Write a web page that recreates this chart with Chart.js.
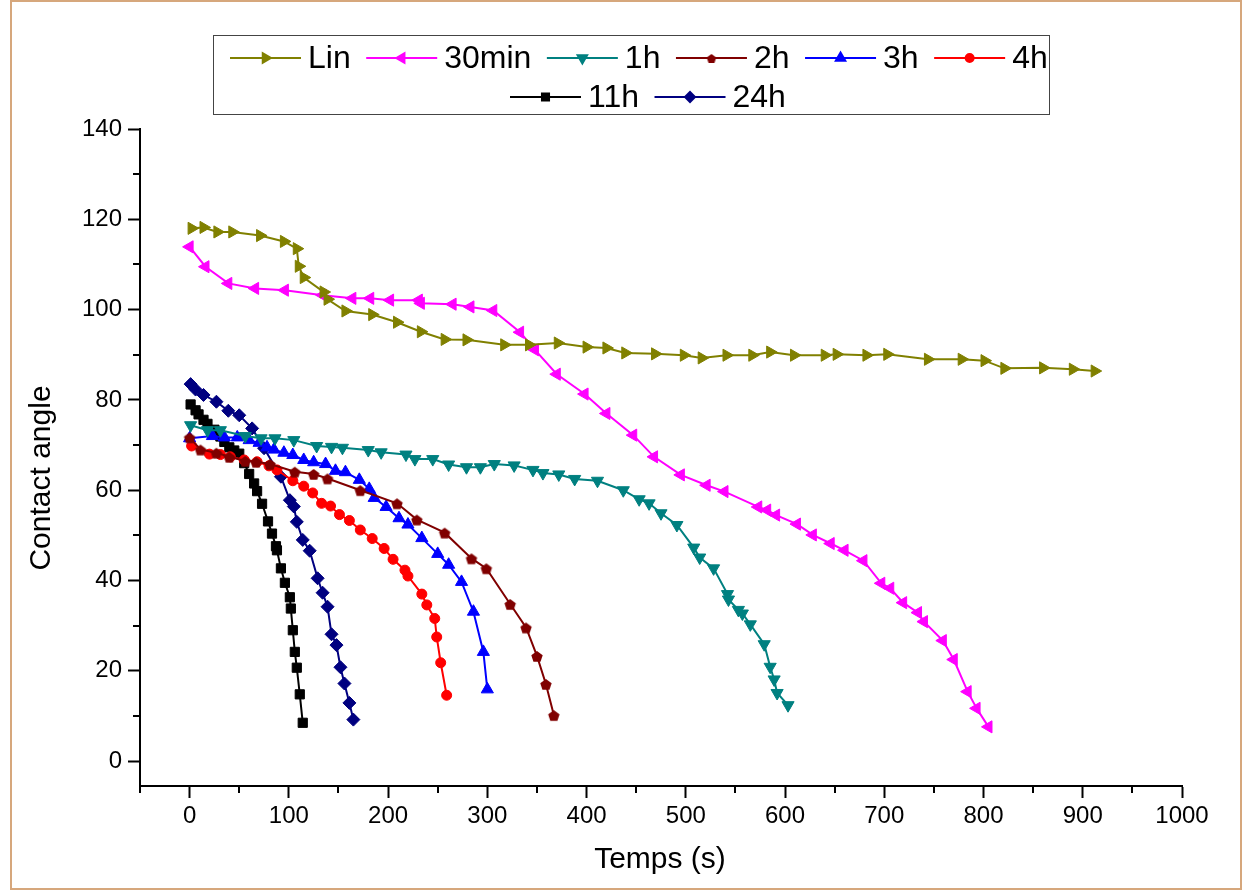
<!DOCTYPE html>
<html>
<head>
<meta charset="utf-8">
<title>Contact angle vs temps</title>
<script src="https://cdn.jsdelivr.net/npm/chart.js@4.4.0/dist/chart.umd.min.js"></script>
<style>
  html, body { margin: 0; padding: 0; background: #fff; }
  #wrap { width: 1243px; height: 891px; }
</style>
</head>
<body>
<div id="wrap"><canvas id="chart" width="1243" height="891"></canvas></div>
<script>
// --- data (time in s, contact angle in degrees) ---
const linX = [2, 14, 28, 43, 71, 95, 108, 110, 115, 135, 139, 157, 184, 209, 233, 257, 279, 317, 342, 371, 400, 420, 439, 469, 498, 516, 541, 567, 585, 609, 640, 652, 682, 703, 744, 778, 801, 821, 860, 890, 912];
const linY = [118.0, 118.2, 117.2, 117.2, 116.4, 115.1, 113.5, 109.6, 107.1, 103.9, 102.3, 99.7, 98.9, 97.2, 95.1, 93.4, 93.3, 92.2, 92.2, 92.6, 91.7, 91.5, 90.4, 90.2, 89.9, 89.3, 89.9, 89.9, 90.6, 89.9, 89.9, 90.1, 89.9, 90.1, 89.0, 89.0, 88.7, 87.0, 87.1, 86.8, 86.4];

const min30X = [0, 16, 39, 66, 96, 134, 164, 182, 202, 231, 233, 265, 283, 306, 333, 348, 370, 398, 420, 447, 468, 495, 521, 539, 573, 582, 591, 612, 628, 646, 660, 679, 697, 706, 719, 734, 740, 759, 770, 784, 793, 805];
const min30Y = [113.9, 109.5, 105.8, 104.7, 104.3, 103.2, 102.5, 102.5, 102.1, 102.1, 101.4, 101.2, 100.6, 99.8, 95.0, 91.1, 85.7, 81.3, 77.0, 72.2, 67.4, 63.4, 61.1, 59.7, 56.3, 55.6, 54.5, 52.5, 50.1, 48.2, 46.7, 44.4, 39.4, 38.3, 35.1, 32.9, 30.9, 26.7, 22.5, 15.4, 11.7, 7.6];

const h1X = [1, 18, 31, 56, 72, 86, 105, 128, 143, 154, 180, 193, 218, 227, 245, 261, 279, 293, 307, 327, 346, 356, 372, 388, 411, 437, 453, 463, 475, 491, 508, 514, 528, 542, 543, 553, 557, 565, 579, 585, 589, 592, 603];
const h1Y = [74.4, 73.3, 73.3, 72.0, 71.5, 71.5, 71.1, 69.8, 69.6, 69.4, 68.9, 68.4, 67.9, 66.9, 66.9, 65.7, 65.1, 65.1, 65.8, 65.5, 64.5, 63.8, 63.5, 62.5, 62.1, 60.0, 58.0, 57.1, 54.9, 52.3, 47.3, 45.1, 42.7, 37.0, 35.8, 33.5, 32.7, 30.3, 25.9, 20.9, 18.1, 15.1, 12.4];

const h2X = [0, 11, 27, 40, 56, 67, 81, 106, 125, 139, 172, 209, 229, 257, 284, 299, 323, 339, 350, 359, 367];
const h2Y = [71.7, 69.0, 68.3, 67.4, 66.5, 66.3, 65.8, 64.1, 63.6, 62.6, 60.0, 57.1, 53.5, 50.6, 44.9, 42.7, 34.8, 29.6, 23.3, 17.1, 10.2];

const h3X = [0, 23, 35, 48, 60, 70, 78, 85, 95, 104, 115, 125, 137, 147, 157, 171, 181, 186, 198, 211, 220, 234, 250, 261, 274, 286, 296, 300];
const h3Y = [71.5, 72.0, 71.7, 71.7, 71.1, 70.5, 69.5, 69.0, 68.3, 67.8, 66.7, 66.2, 65.8, 64.3, 64.0, 62.3, 60.3, 58.3, 56.3, 53.8, 52.4, 49.4, 45.9, 43.5, 39.7, 33.1, 24.2, 15.9];

const h4X = [2, 20, 31, 41, 55, 68, 80, 88, 104, 115, 124, 133, 142, 151, 161, 172, 184, 196, 205, 217, 220, 234, 239, 247, 249, 253, 259];
const h4Y = [69.8, 68.0, 67.9, 67.4, 66.7, 66.3, 65.4, 64.5, 62.1, 60.9, 59.4, 57.1, 56.5, 54.6, 53.3, 51.2, 49.3, 47.1, 44.7, 42.3, 41.0, 37.0, 34.6, 31.6, 27.5, 21.8, 14.6];

const h11X = [1, 6, 9, 14, 18, 25, 31, 35, 40, 45, 50, 55, 60, 65, 68, 73, 79, 83, 87, 88, 92, 96, 101, 102, 104, 106, 108, 111, 114];
const h11Y = [79.0, 77.7, 76.8, 75.6, 74.7, 73.4, 71.9, 70.7, 69.5, 68.8, 68.1, 66.0, 63.6, 61.5, 59.8, 57.0, 53.1, 50.4, 47.6, 46.7, 42.7, 39.5, 36.3, 33.8, 29.0, 24.2, 20.7, 14.8, 8.5];

const h24X = [1, 6, 14, 27, 39, 50, 63, 75, 92, 101, 105, 108, 114, 121, 129, 134, 139, 143, 148, 152, 156, 161, 165];
const h24Y = [83.5, 82.3, 81.1, 79.6, 77.6, 76.6, 73.7, 69.3, 63.0, 57.8, 56.4, 53.0, 49.0, 46.6, 40.5, 37.3, 34.2, 28.1, 25.7, 20.8, 17.2, 12.9, 9.2];

const SERIES_NAMES = ['Lin', '30min', '1h', '2h', '3h', '4h', '11h', '24h'];
const X_TICKS = [0, 100, 200, 300, 400, 500, 600, 700, 800, 900, 1000];
const X_MINOR = [-50, 50, 150, 250, 350, 450, 550, 650, 750, 850, 950];
const Y_TICKS = [0, 20, 40, 60, 80, 100, 120, 140];
const Y_MINOR = [10, 30, 50, 70, 90, 110, 130];

const FONT = '"Liberation Sans", Arial, sans-serif';

function pentagon(color, r) {
  const c = document.createElement('canvas');
  const s = Math.ceil(r * 2 + 2);
  c.width = c.height = s;
  const g = c.getContext('2d');
  g.fillStyle = color;
  g.beginPath();
  for (let i = 0; i < 5; i++) {
    const a = -Math.PI / 2 + i * 2 * Math.PI / 5;
    g.lineTo(s / 2 + r * Math.cos(a), s / 2 + 1 + r * Math.sin(a));
  }
  g.closePath();
  g.fill();
  return c;
}

const pts = (xs, ys) => xs.map((x, i) => ({ x, y: ys[i] }));

// style per series: colour, marker, rotation, radius
const STYLES = [
  { color: '#808000', style: 'triangle', rot: 90,  r: 7 },
  { color: '#ff00ff', style: 'triangle', rot: -90, r: 7 },
  { color: '#008080', style: 'triangle', rot: 180, r: 7 },
  { color: '#800000', style: pentagon('#800000', 6), rot: 0, r: 6 },
  { color: '#0000ff', style: 'triangle', rot: 0,   r: 7 },
  { color: '#ff0000', style: 'circle',   rot: 0,   r: 5 },
  { color: '#000000', style: 'rect',     rot: 0,   r: 6.5 },
  { color: '#000080', style: 'rectRot',  rot: 0,   r: 6.5 },
];
const LEGEND_MARKERS = [
  { style: 'triangle', r: 5.5 }, { style: 'triangle', r: 5.5 }, { style: 'triangle', r: 5.5 },
  { style: pentagon('#800000', 5), r: 5 }, { style: 'triangle', r: 5.5 }, { style: 'circle', r: 4 },
  { style: 'rect', r: 5 }, { style: 'rectRot', r: 5 },
];

const SERIES = [[linX, linY], [min30X, min30Y], [h1X, h1Y], [h2X, h2Y], [h3X, h3Y], [h4X, h4Y], [h11X, h11Y], [h24X, h24Y]];

const datasets = SERIES.map(([xs, ys], i) => {
  const s = STYLES[i];
  return {
    label: SERIES_NAMES[i],
    data: pts(xs, ys),
    borderColor: s.color,
    backgroundColor: s.color,
    borderWidth: 2,
    pointStyle: s.style,
    rotation: s.rot,
    pointRadius: s.r,
    pointBackgroundColor: s.color,
    pointBorderColor: s.color,
    pointBorderWidth: 1,
    tension: 0,
    fill: false,
  };
});

const decor = {
  id: 'decor',
  beforeDraw(chart) {
    const ctx = chart.ctx;
    ctx.save();
    ctx.fillStyle = '#fff';
    ctx.fillRect(0, 0, chart.width, chart.height);
    ctx.strokeStyle = '#d6a77c';
    ctx.lineWidth = 2;
    ctx.strokeRect(11, 1, 1230, 888);
    ctx.restore();
  },
  afterDraw(chart) {
    const { ctx, scales: { x, y } } = chart;
    ctx.save();
    // minor ticks
    ctx.strokeStyle = '#000';
    ctx.lineWidth = 2;
    ctx.beginPath();
    X_MINOR.forEach(v => {
      const px = Math.round(x.getPixelForValue(v));
      ctx.moveTo(px, x.top); ctx.lineTo(px, x.top + 7);
    });
    Y_MINOR.forEach(v => {
      const py = Math.round(y.getPixelForValue(v));
      ctx.moveTo(y.right - 7, py); ctx.lineTo(y.right, py);
    });
    ctx.stroke();

    // axis titles
    ctx.fillStyle = '#000';
    ctx.font = '30px ' + FONT;
    ctx.textAlign = 'center';
    ctx.textBaseline = 'middle';
    ctx.fillText('Temps (s)', 660, 860);
    ctx.translate(42, 478);
    ctx.rotate(-Math.PI / 2);
    ctx.fillText('Contact angle', 0, 0);
    ctx.setTransform(1, 0, 0, 1, 0, 0);

    // legend box
    ctx.strokeStyle = '#444';
    ctx.lineWidth = 1;
    ctx.strokeRect(213.5, 35.5, 836, 79);
    const rows = [[0, 1, 2, 3, 4, 5], [6, 7]];
    const rowX = [230, 510];
    const rowY = [58, 97];
    ctx.font = '32px ' + FONT;
    ctx.textAlign = 'left';
    rows.forEach((row, ri) => {
      let cx = rowX[ri];
      const cy = rowY[ri];
      row.forEach(i => {
        const s = STYLES[i];
        const m = LEGEND_MARKERS[i];
        ctx.strokeStyle = s.color;
        ctx.fillStyle = s.color;
        ctx.lineWidth = 2;
        ctx.beginPath();
        ctx.moveTo(cx, cy); ctx.lineTo(cx + 71, cy);
        ctx.stroke();
        Chart.helpers.drawPoint(ctx, { pointStyle: m.style, rotation: s.rot, radius: m.r, borderWidth: 1 }, cx + 35.5, cy);
        ctx.fillStyle = '#000';
        ctx.fillText(SERIES_NAMES[i], cx + 78, cy + 1);
        cx += 78 + ctx.measureText(SERIES_NAMES[i]).width + 15.5;
      });
    });
    ctx.restore();
  }
};

new Chart(document.getElementById('chart'), {
  type: 'line',
  data: { datasets },
  plugins: [decor],
  options: {
    responsive: false,
    animation: false,
    layout: { padding: { left: 0, top: 129, right: 61, bottom: 0 } },
    plugins: { legend: { display: false }, tooltip: { enabled: false } },
    scales: {
      x: {
        type: 'linear',
        min: -50, max: 1000,
        afterFit: s => { s.height = 105; },
        afterBuildTicks: s => { s.ticks = X_TICKS.map(v => ({ value: v })); },
        grid: { drawOnChartArea: false, drawTicks: true, tickLength: 12, tickColor: '#000', tickWidth: 2 },
        border: { color: '#000', width: 2 },
        ticks: { color: '#000', font: { family: FONT, size: 24 }, padding: 4, maxRotation: 0, callback: v => String(v) },
      },
      y: {
        type: 'linear',
        min: -5.5, max: 140,
        afterFit: s => { s.width = 140; },
        afterBuildTicks: s => { s.ticks = Y_TICKS.map(v => ({ value: v })); },
        grid: { drawOnChartArea: false, drawTicks: true, tickLength: 12, tickColor: '#000', tickWidth: 2 },
        border: { color: '#000', width: 2 },
        ticks: { color: '#000', font: { family: FONT, size: 24 }, padding: 6, callback: v => String(v) },
      },
    },
  },
});
</script>
</body>
</html>
